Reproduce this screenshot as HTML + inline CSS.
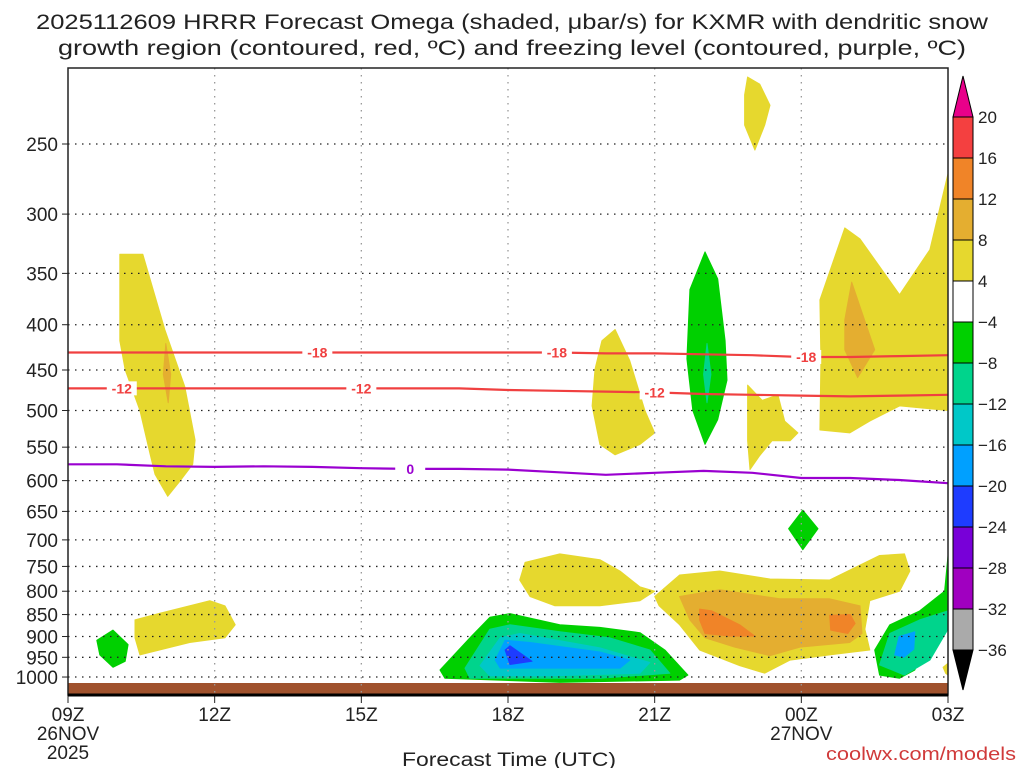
<!DOCTYPE html>
<html><head><meta charset="utf-8"><style>
body{margin:0;background:#fff;width:1024px;height:768px;overflow:hidden}
svg text{font-family:"Liberation Sans","DejaVu Sans",sans-serif;fill:#222}
</style></head><body>
<svg id="c" width="1024" height="768" viewBox="0 0 1024 768">
<text x="512" y="29" text-anchor="middle" font-size="21" textLength="952" lengthAdjust="spacingAndGlyphs">2025112609 HRRR Forecast Omega (shaded, μbar/s) for KXMR with dendritic snow</text>
<text x="512" y="55" text-anchor="middle" font-size="21" textLength="908" lengthAdjust="spacingAndGlyphs">growth region (contoured, red, ºC) and freezing level (contoured, purple, ºC)</text>
<g id="shade"></g><g id="grid"></g><g id="lines"></g><g id="axes"></g><g id="cbar"></g>
<text x="509" y="766" text-anchor="middle" font-size="19" textLength="214" lengthAdjust="spacingAndGlyphs">Forecast Time (UTC)</text>
<text x="1016" y="760" text-anchor="end" font-size="18" textLength="190" lengthAdjust="spacingAndGlyphs" style="fill:#d03a3a">coolwx.com/models</text>
</svg>
<script>
const NS="http://www.w3.org/2000/svg";
const pLevels=[250,300,350,400,450,500,550,600,650,700,750,800,850,900,950,1000];
const hourTicks=[0,3,6,9,12,15,18];
const hourLabels=["09Z","12Z","15Z","18Z","21Z","00Z","03Z"];
const cbLevels=[20,16,12,8,4,-4,-8,-12,-16,-20,-24,-28,-32,-36];
const cbColors=["#f44040","#f08428","#e4ae30","#e6d82e","#ffffff","#00d000","#00d48c","#00c8c8","#00a0ff","#1e3cff","#7800d8","#a000c0","#aaaaaa"];
// contour lines: hours and pressures (hPa)
const lineHours=[0,1,2,3,4,5,6,7,8,9,10,11,12,13,14,15,16,17,18];
const frzP=[575,575,578,579,578,579,581,582,582,583,587,591,588,585,588,596,596,599,604];
const dgz12P=[472,472,472,472,472,472,472,472,472,474,475,476,477,479,480,481,482,481,480];
const dgz18P=[430,430,430,430,430,430,430,430,430,430,430,431,431,432,433,435,435,434,433];
// shaded omega regions: [color index, [[hour,hPa],...]]
const regions=[
[3,[[1.06,333],[1.53,333],[1.98,405],[2.39,470],[2.6,540],[2.55,575],[2.3,600],[2.04,625],[1.78,590],[1.68,560],[1.47,500],[1.17,450],[1.06,417]]],
[2,[[2.0,420],[2.1,455],[2.05,490],[1.95,455]]],
[3,[[15.38,375],[15.89,311],[16.2,320],[17.01,370],[17.63,329],[18,270],[18,500],[17.01,494],[16.4,514],[15.99,530],[15.38,526],[15.4,439]]],
[2,[[16.03,358],[16.36,405],[16.5,427],[16.15,459],[15.89,427],[15.89,395]]],
[3,[[13.9,210],[14.15,214],[14.36,226],[14.25,238],[14.05,254],[13.84,238],[13.84,220]]],
[5,[[13.03,331],[13.29,355],[13.44,417],[13.48,462],[13.29,512],[13.03,546],[12.78,500],[12.66,437],[12.72,365]]],
[6,[[13.07,420],[13.15,455],[13.07,490],[13.0,455]]],
[3,[[13.9,468],[14.2,487],[14.52,480],[14.66,514],[14.93,530],[14.77,541],[14.4,541],[14.15,562],[13.95,583],[13.9,541]]],
[3,[[10.92,417],[11.19,405],[11.49,439],[11.8,500],[12.0,530],[11.7,546],[11.19,561],[10.88,546],[10.72,494],[10.78,449]]],
[5,[[15.03,648],[15.34,680],[15.03,718],[14.74,680]]],
[5,[[0.92,885],[1.23,919],[1.17,960],[0.92,975],[0.65,944],[0.59,909]]],
[3,[[1.37,862],[1.88,847],[2.9,820],[3.21,831],[3.42,873],[3.21,903],[2.49,914],[1.47,944],[1.37,903]]],
[3,[[9.35,742],[10.06,726],[10.88,737],[11.29,759],[11.7,791],[12.0,800],[11.7,820],[10.88,831],[9.96,831],[9.45,811],[9.24,777]]],
[3,[[12,811],[12.51,767],[13.33,759],[14.36,775],[15.58,777],[16.6,729],[17.11,726],[17.22,759],[17.01,800],[16.4,820],[16.3,883],[16.4,932],[15.58,944],[14.77,957],[14.25,990],[13.74,971],[12.92,932],[12.51,873],[12.09,831]]],
[2,[[12.51,811],[13.33,797],[14.56,816],[15.58,816],[16.2,831],[16.24,893],[15.99,914],[14.97,925],[14.36,946],[13.64,925],[13.03,903],[12.72,862]]],
[1,[[12.92,838],[13.17,842],[13.74,873],[14.05,899],[13.54,899],[13.03,893],[12.92,862]]],
[1,[[15.58,852],[16.0,850],[16.1,870],[15.95,893],[15.6,885]]],
[5,[[7.61,982],[8.22,903],[8.63,856],[9.04,848],[10.06,873],[10.88,879],[11.7,891],[12.21,932],[12.68,995],[12.51,1008],[10.06,1014],[7.71,1003]]],
[6,[[8.12,977],[8.63,883],[9.04,873],[10.06,889],[11.08,903],[11.9,932],[12.31,990],[10.88,1003],[8.22,1003]]],
[7,[[8.43,971],[8.84,903],[9.24,893],[10.88,927],[11.9,963],[11.7,990],[9.86,997],[8.63,997]]],
[8,[[8.74,957],[8.94,909],[9.45,914],[10.88,937],[11.49,957],[11.29,977],[10.06,977],[8.84,977]]],
[9,[[8.94,932],[9.04,922],[9.49,960],[9.04,968]]],
[5,[[16.5,932],[16.81,873],[17.42,842],[17.93,800],[18,729],[18,862],[17.63,903],[17.32,982],[17.01,1003],[16.6,995]]],
[6,[[16.6,969],[16.81,893],[17.42,862],[18,842],[18,883],[17.63,957],[17.11,995]]],
[8,[[16.91,944],[17.0,900],[17.32,889],[17.3,930],[17.1,950]]],
[3,[[17.9,975],[18,965],[18,995],[17.95,990]]]
];
const X0=68,X1=948,PX=(X1-X0)/18;
const x=h=>X0+h*PX;
const y=p=>144+384.5*Math.log(p/250);
function mk(tag,attrs,parent){const e=document.createElementNS(NS,tag);for(const k in attrs)e.setAttribute(k,attrs[k]);parent.appendChild(e);return e;}
const shade=document.getElementById('shade'),grid=document.getElementById('grid'),lines=document.getElementById('lines'),axes=document.getElementById('axes'),cbar=document.getElementById('cbar');
regions.forEach((r,i)=>{
  const pts=r[1].map(d=>x(d[0]).toFixed(1)+","+y(d[1]).toFixed(1)).join(" ");
  const el=mk('polygon',{points:pts,fill:cbColors[r[0]],'stroke':cbColors[r[0]],'stroke-width':1,'stroke-linejoin':'round'},shade);
  
  
});
// ground
const g=mk('rect',{x:X0,y:683,width:X1-X0,height:12,fill:'#a0522d'},shade);


pLevels.forEach(p=>{
  const gl=mk('line',{x1:X0,x2:X1,y1:y(p),y2:y(p),stroke:'#222','stroke-width':1.3,'stroke-dasharray':'1.5 5.5'},grid);
  
  
  const t=mk('text',{x:58,y:y(p)+7,'text-anchor':'end','font-size':19},axes);
  t.textContent=p;
  
  
  mk('line',{x1:X0-6,x2:X0,y1:y(p),y2:y(p),stroke:'#222','stroke-width':1},axes);
});
hourTicks.forEach((h,i)=>{
  if(i>0&&i<6){const vl=mk('line',{x1:x(h),x2:x(h),y1:68,y2:695,stroke:'#999','stroke-width':1.3,'stroke-dasharray':'1.5 5.5'},grid);
  
  }
  mk('line',{x1:x(h),x2:x(h),y1:695,y2:703,stroke:'#222','stroke-width':1},axes);
  const t=mk('text',{x:x(h),y:721,'text-anchor':'middle','font-size':19},axes);
  t.textContent=hourLabels[i];
  
  
});
[["26NOV",0,740],["2025",0,759],["27NOV",15,740]].forEach(d=>{
  const t=mk('text',{x:x(d[1]),y:d[2],'text-anchor':'middle','font-size':19},axes);
  t.textContent=d[0];
  
  
});
// frame
const fr=mk('rect',{x:X0,y:68,width:X1-X0,height:627,fill:'none',stroke:'#222','stroke-width':1.5},axes);


mk('line',{x1:X0,x2:X1,y1:695,y2:695,stroke:'#000','stroke-width':3},axes);
function contour(ps,color,name,labels,txt){
  const d=lineHours.map((h,i)=>(i?'L':'M')+x(h).toFixed(1)+' '+y(ps[i]).toFixed(1)).join(' ');
  const p=mk('path',{d:d,fill:'none',stroke:color,'stroke-width':2.2},lines);
  
  
  labels.forEach(h=>{
    const i=Math.floor(h),f=h-i;
    const pv=ps[i]+(ps[Math.min(i+1,ps.length-1)]-ps[i])*f;
    mk('rect',{x:x(h)-15,y:y(pv)-7,width:30,height:14,fill:'#fff'},lines);
    const t=mk('text',{x:x(h),y:y(pv)+5,'text-anchor':'middle','font-size':14,'font-weight':'bold',style:'fill:'+color},lines);
    t.textContent=txt;
    
    
  });
}
contour(frzP,'#9a00d0','freezing-level-line',[7],'0');
contour(dgz12P,'#f04040','dgz-minus12-line',[1.1,6,12],'-12');
contour(dgz18P,'#f04040','dgz-minus18-line',[5.1,10,15.1],'-18');
// colorbar
const CB0=117,CBH=41,CX=953,CW=20;
cbColors.forEach((c,i)=>{
  const r=mk('rect',{x:CX,y:CB0+i*CBH,width:CW,height:CBH,fill:c,stroke:'#000','stroke-width':1},cbar);
  
  
});
cbLevels.forEach((v,i)=>{
  const t=mk('text',{x:978,y:CB0+i*CBH+6,'font-size':17},cbar);
  t.textContent=v<0?'\u2212'+(-v):v;
  
  
});
const tu=mk('polygon',{points:`${CX},${CB0} ${CX+CW},${CB0} ${CX+CW/2},76`,fill:'#e8008a',stroke:'#000'},cbar);


const yb=CB0+cbColors.length*CBH;
const tb=mk('polygon',{points:`${CX},${yb} ${CX+CW},${yb} ${CX+CW/2},${yb+40}`,fill:'#000',stroke:'#000'},cbar);


</script>
</body></html>
